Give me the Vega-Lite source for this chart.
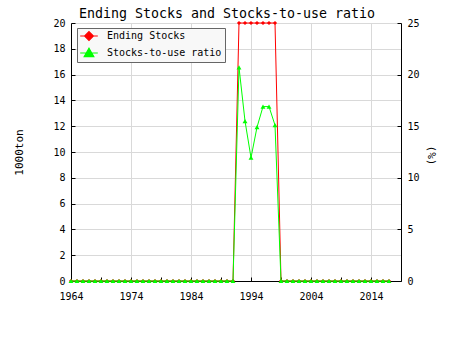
{
  "$schema": "https://vega.github.io/schema/vega-lite/v6.json",
  "width": 330,
  "height": 258,
  "autosize": "none",
  "padding": {"left": 71, "top": 23, "right": 49, "bottom": 69},
  "background": "white",
  "title": {"text": "Ending Stocks and Stocks-to-use ratio", "font": "DejaVu Sans Mono", "fontSize": 13.3, "fontWeight": "normal", "color": "black", "anchor": "middle", "dx": -9, "dy": 8, "offset": 6},
  "config": {
    "view": {"stroke": null},
    "font": "DejaVu Sans Mono",
    "axis": {"labelFont": "DejaVu Sans Mono", "labelFontSize": 10, "labelColor": "black", "domainColor": "black", "tickColor": "black", "gridColor": "#d9d9d9", "titleFont": "DejaVu Sans Mono", "titleFontWeight": "normal", "titleFontSize": 11, "titleColor": "black"}
  },
  "data": {"values": [
    {"year": 1964, "stocks": 0, "ratio": 0}, {"year": 1965, "stocks": 0, "ratio": 0}, {"year": 1966, "stocks": 0, "ratio": 0}, {"year": 1967, "stocks": 0, "ratio": 0}, {"year": 1968, "stocks": 0, "ratio": 0}, {"year": 1969, "stocks": 0, "ratio": 0},
    {"year": 1970, "stocks": 0, "ratio": 0}, {"year": 1971, "stocks": 0, "ratio": 0}, {"year": 1972, "stocks": 0, "ratio": 0}, {"year": 1973, "stocks": 0, "ratio": 0}, {"year": 1974, "stocks": 0, "ratio": 0}, {"year": 1975, "stocks": 0, "ratio": 0},
    {"year": 1976, "stocks": 0, "ratio": 0}, {"year": 1977, "stocks": 0, "ratio": 0}, {"year": 1978, "stocks": 0, "ratio": 0}, {"year": 1979, "stocks": 0, "ratio": 0}, {"year": 1980, "stocks": 0, "ratio": 0}, {"year": 1981, "stocks": 0, "ratio": 0},
    {"year": 1982, "stocks": 0, "ratio": 0}, {"year": 1983, "stocks": 0, "ratio": 0}, {"year": 1984, "stocks": 0, "ratio": 0}, {"year": 1985, "stocks": 0, "ratio": 0}, {"year": 1986, "stocks": 0, "ratio": 0}, {"year": 1987, "stocks": 0, "ratio": 0},
    {"year": 1988, "stocks": 0, "ratio": 0}, {"year": 1989, "stocks": 0, "ratio": 0}, {"year": 1990, "stocks": 0, "ratio": 0}, {"year": 1991, "stocks": 0, "ratio": 0},
    {"year": 1992, "stocks": 20, "ratio": 20.7}, {"year": 1993, "stocks": 20, "ratio": 15.5}, {"year": 1994, "stocks": 20, "ratio": 11.95}, {"year": 1995, "stocks": 20, "ratio": 14.9},
    {"year": 1996, "stocks": 20, "ratio": 16.9}, {"year": 1997, "stocks": 20, "ratio": 16.9}, {"year": 1998, "stocks": 20, "ratio": 15.1},
    {"year": 1999, "stocks": 0, "ratio": 0}, {"year": 2000, "stocks": 0, "ratio": 0}, {"year": 2001, "stocks": 0, "ratio": 0}, {"year": 2002, "stocks": 0, "ratio": 0}, {"year": 2003, "stocks": 0, "ratio": 0}, {"year": 2004, "stocks": 0, "ratio": 0},
    {"year": 2005, "stocks": 0, "ratio": 0}, {"year": 2006, "stocks": 0, "ratio": 0}, {"year": 2007, "stocks": 0, "ratio": 0}, {"year": 2008, "stocks": 0, "ratio": 0}, {"year": 2009, "stocks": 0, "ratio": 0}, {"year": 2010, "stocks": 0, "ratio": 0},
    {"year": 2011, "stocks": 0, "ratio": 0}, {"year": 2012, "stocks": 0, "ratio": 0}, {"year": 2013, "stocks": 0, "ratio": 0}, {"year": 2014, "stocks": 0, "ratio": 0}, {"year": 2015, "stocks": 0, "ratio": 0}, {"year": 2016, "stocks": 0, "ratio": 0},
    {"year": 2017, "stocks": 0, "ratio": 0}
  ]},
  "encoding": {
    "x": {"field": "year", "type": "quantitative", "scale": {"domain": [1964, 2019], "nice": false, "zero": false},
      "axis": {"title": null, "values": [1964, 1969, 1974, 1979, 1984, 1989, 1994, 1999, 2004, 2009, 2014],
        "labelExpr": "(datum.value - 1964) % 10 == 0 ? datum.label : ''", "format": "d",
        "tickSize": -4, "labelPadding": 14, "labelFlush": false, "labelOverlap": false,
        "grid": true, "gridOpacity": {"condition": {"test": "(datum.value - 1964) % 10 == 0 && datum.value > 1964", "value": 1}, "value": 0}}}
  },
  "layer": [
    {
      "encoding": {
        "y": {"field": "stocks", "type": "quantitative", "scale": {"domain": [0, 20], "nice": false},
          "axis": {"title": "1000ton", "values": [0, 2, 4, 6, 8, 10, 12, 14, 16, 18, 20], "tickSize": -4, "labelPadding": 10, "grid": true, "titleX": -52, "titleY": 129, "titleAngle": -90, "titleAlign": "center", "titleBaseline": "middle"}},
        "color": {"datum": "Ending Stocks", "type": "nominal", "scale": {"domain": ["Ending Stocks", "Stocks-to-use ratio"], "range": ["#ff0000", "#00ff00"]},
          "legend": {"title": null, "orient": "none", "legendX": 6, "legendY": 5, "fillColor": "#f8f8f8", "strokeColor": "#666666", "padding": 3, "symbolOffset": 4, "labelOffset": 13, "rowPadding": 2, "symbolSize": 64, "labelFont": "DejaVu Sans Mono", "labelFontSize": 10, "labelColor": "black",
            "encode": {"symbols": {"update": {
              "shape": {"signal": "datum.value === 'Ending Stocks' ? 'M-2.2,0H2.2M0,-1.1L1.1,0L0,1.1L-1.1,0Z' : 'M-2.2,0H2.2M0,-1.2L1.2,0.9L-1.2,0.9Z'"},
              "stroke": {"signal": "datum.value === 'Ending Stocks' ? '#ff0000' : '#00ff00'"},
              "fill": {"signal": "datum.value === 'Ending Stocks' ? '#ff0000' : '#00ff00'"},
              "strokeWidth": {"value": 1.2},
              "opacity": {"value": 1}}}}}}
      },
      "layer": [
        {"mark": {"type": "line", "strokeWidth": 1}},
        {"mark": {"type": "point", "filled": true, "opacity": 1, "size": 18, "shape": "diamond"}}
      ]
    },
    {
      "encoding": {
        "y": {"field": "ratio", "type": "quantitative", "scale": {"domain": [0, 25], "nice": false},
          "axis": {"title": "(%)", "orient": "right", "values": [0, 5, 10, 15, 20, 25], "tickSize": -4, "labelPadding": 10, "grid": false, "titleX": 29, "titleY": 132, "titleAngle": 90, "titleAlign": "center", "titleBaseline": "middle"}},
        "color": {"datum": "Stocks-to-use ratio", "type": "nominal"}
      },
      "layer": [
        {"mark": {"type": "line", "strokeWidth": 1}},
        {"mark": {"type": "point", "filled": true, "opacity": 1, "size": 24, "shape": "triangle-up"}}
      ]
    }
  ],
  "resolve": {"scale": {"y": "independent"}}
}
